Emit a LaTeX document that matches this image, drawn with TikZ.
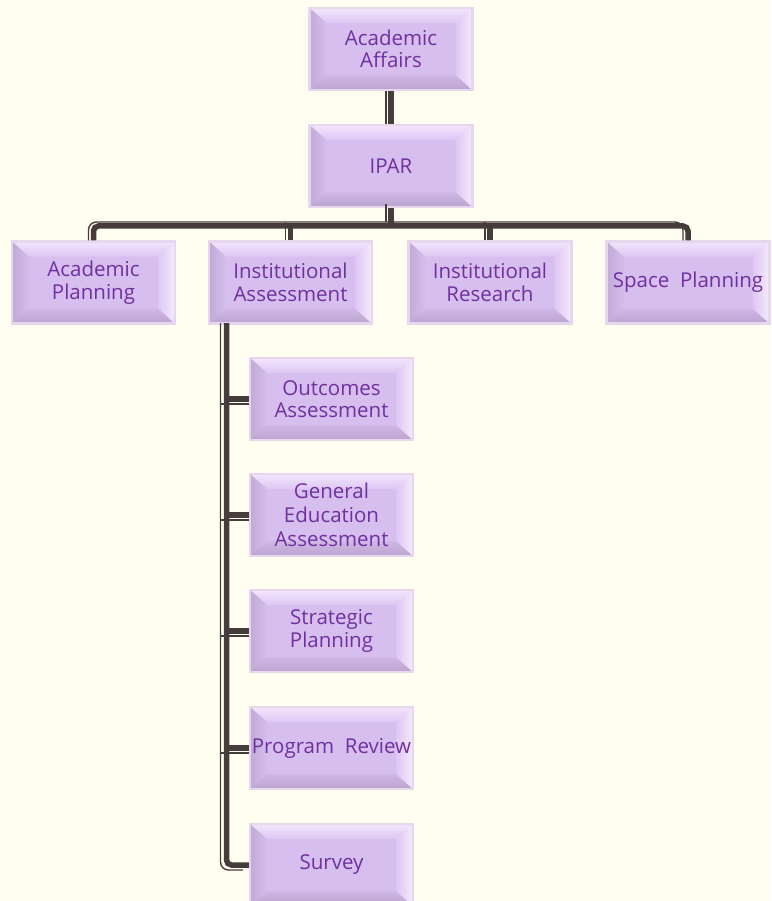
\documentclass[tikz,border=0pt]{standalone}
\usepackage{fontspec}
\newfontfamily\boxf{Open Sans}
\definecolor{bg}{HTML}{FFFEF1}
\definecolor{bmain}{HTML}{D6BEEE}
\definecolor{bedge}{HTML}{E6D7EE}
\definecolor{btext}{HTML}{7030A0}
\definecolor{cc}{HTML}{463C3C}
\tikzset{
  bev/.style={rectangle, minimum width=163pt, minimum height=82pt, inner sep=0pt,
    draw=bedge, line width=2.2pt, fill=bmain, text=btext, align=center,
    font=\boxf\fontsize{20.5}{22.5}\selectfont,
    path picture={
      \coordinate (pA) at (path picture bounding box.north west);
      \coordinate (pB) at (path picture bounding box.north east);
      \coordinate (pC) at (path picture bounding box.south east);
      \coordinate (pD) at (path picture bounding box.south west);
      \coordinate (qA) at ([shift={(17pt,-15pt)}]pA);
      \coordinate (qB) at ([shift={(-17pt,-15pt)}]pB);
      \coordinate (qC) at ([shift={(-17pt,15pt)}]pC);
      \coordinate (qD) at ([shift={(17pt,15pt)}]pD);
      \shade[top color={rgb,255:red,243;green,229;blue,252}, bottom color={rgb,255:red,221;green,199;blue,243}] (pA) -- (pB) -- (qB) -- (qA) -- cycle;
      \shade[left color={rgb,255:red,194;green,170;blue,215}, right color={rgb,255:red,213;green,189;blue,236}] (pA) -- (qA) -- (qD) -- (pD) -- cycle;
      \shade[bottom color={rgb,255:red,188;green,164;blue,207}, top color={rgb,255:red,207;green,183;blue,230}] (pD) -- (qD) -- (qC) -- (pC) -- cycle;
      \shade[right color={rgb,255:red,246;green,234;blue,252}, left color={rgb,255:red,221;green,199;blue,243}] (pB) -- (pC) -- (qC) -- (qB) -- cycle;
    }},
  thickc/.style={line width=5.5pt, draw=cc, rounded corners=5pt},
  thinc/.style={line width=1.4pt, draw=cc, rounded corners=8pt, transform canvas={shift={(-5pt,4pt)}}},
  thincol/.style={line width=1.4pt, draw=cc, rounded corners=8pt, transform canvas={shift={(-6pt,-5pt)}}}
}
\begin{document}
\begin{tikzpicture}[x=1pt,y=-1pt]
\fill[bg] (0,0) rectangle (771,901);
\useasboundingbox (0,0) rectangle (771,901);
\clip (0,0) rectangle (771,901);

\coordinate (bus) at (391,226);
\coordinate (sp) at (226.5,323);

\node[bev] (AA) at (391,49) {Academic\\Affairs};
\node[bev] (IPAR) at (391,166) {IPAR};
\node[bev] (AP) at (93.5,282.5) {Academic\\Planning};
\node[bev] (IA) at (290.5,282.5) {Institutional\\Assessment};
\node[bev] (IR) at (490,282.5) {Institutional\\Research};
\node[bev] (SP) at (688,282.5) {Space\ \ Planning};
\node[bev] (OA) at (331.5,399) {Outcomes\\Assessment};
\node[bev, font=\boxf\fontsize{20.5}{24}\selectfont] (GE) at (331.5,515) {General\\Education\\Assessment};
\node[bev] (ST) at (331.5,631) {Strategic\\Planning};
\node[bev] (PR) at (331.5,748) {Program\ \ Review};
\node[bev] (SV) at (331.5,865) {Survey};

% AA - IPAR
\draw[thickc] (AA.south) -- (IPAR.north);
\draw[thinc] ([yshift=-4pt]AA.south) -- ([yshift=-4pt]IPAR.north);

% IPAR - row
\draw[thickc] (IPAR.south) -- (IPAR.south |- bus);
\draw[thinc] (IPAR.south) -- (IPAR.south |- bus);
\draw[thickc] (AP.north) -- (AP.north |- bus) -- (SP.north |- bus) -- (SP.north);
\draw[thinc] ([yshift=-4pt]AP.north) -- (AP.north |- bus) -- (SP.north |- bus) -- ([yshift=-4pt]SP.north);
\draw[thickc] (IA.north) -- (IA.north |- bus);
\draw[thinc] ([yshift=-4pt]IA.north) -- (IA.north |- bus);
\draw[thickc] (IR.north) -- (IR.north |- bus);
\draw[thinc] ([yshift=-4pt]IR.north) -- (IR.north |- bus);

% column
\draw[thickc] (sp) |- (SV.west);
\draw[thincol] ([yshift=5pt]sp) |- (SV.west);
\foreach \n in {OA,GE,ST,PR}{
  \draw[thickc] (sp |- \n.west) -- (\n.west);
  \draw[thincol] (sp |- \n.west) -- ([xshift=6pt]\n.west);
}
\end{tikzpicture}
\end{document}
